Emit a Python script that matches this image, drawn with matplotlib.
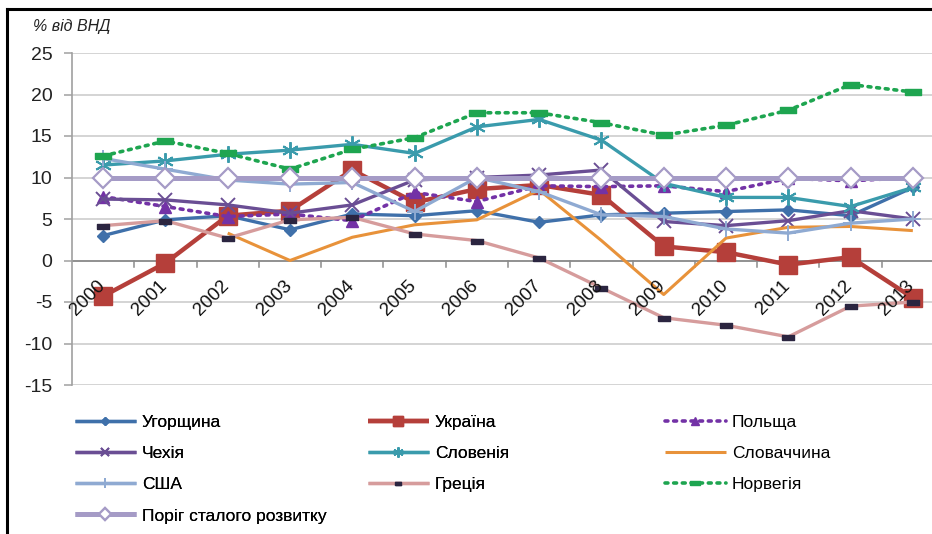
import matplotlib
matplotlib.use("Agg")
import matplotlib.pyplot as plt
from matplotlib.lines import Line2D
from matplotlib.transforms import ScaledTranslation
import numpy as np

plt.rcParams['font.family'] = ['Liberation Sans', 'DejaVu Sans']
plt.rcParams['axes.unicode_minus'] = False

years = ['2000', '2001', '2002', '2003', '2004', '2005', '2006', '2007',
         '2008', '2009', '2010', '2011', '2012', '2013']

hungary  = [3.0, 4.9, 5.4, 3.7, 5.6, 5.4, 6.0, 4.6, 5.5, 5.7, 5.9, 6.1, 5.4, 8.8]
ukraine  = [-4.3, -0.3, 5.4, 6.0, 10.9, 7.0, 8.6, 9.1, 7.9, 1.7, 1.0, -0.5, 0.4, -4.5]
poland   = [7.7, 6.5, 5.3, 5.6, 4.8, 8.2, 7.1, 9.0, 8.9, 9.0, 8.3, 9.9, 9.6, 10.0]
czech    = [7.4, 7.3, 6.7, 5.7, 6.7, 9.7, 10.0, 10.3, 10.9, 4.7, 4.2, 4.8, 6.0, 5.0]
slovenia = [11.5, 12.0, 12.8, 13.3, 14.0, 12.9, 16.1, 17.0, 14.5, 9.3, 7.6, 7.6, 6.5, 8.8]
slovakia = [np.nan, np.nan, 3.3, 0.0, 2.8, 4.3, 4.9, 8.5, 2.4, -4.1, 2.7, 4.0, 4.1, 3.6]
usa      = [12.3, 11.0, 9.7, 9.2, 9.4, 5.9, 10.0, 8.3, 5.5, 5.3, 3.8, 3.3, 4.5, 5.0]
greece   = [4.2, 4.8, 2.7, 4.9, 5.2, 3.2, 2.4, 0.3, -3.3, -6.9, -7.8, -9.2, -5.5, -5.0]
norway   = [12.6, 14.4, 12.9, 11.0, 13.4, 14.8, 17.8, 17.8, 16.6, 15.1, 16.3, 18.1, 21.2, 20.3]
threshold = [10.0] * 14

labels = ['Угорщина', 'Україна', 'Польща', 'Чехія', 'Словенія', 'Словаччина',
          'США', 'Греція', 'Норвегія', 'Поріг сталого розвитку']

W, H = 932, 534
fig = plt.figure(figsize=(W / 100, H / 100), dpi=100)
fig.patch.set_facecolor('white')

ax = fig.add_axes([72 / W, 1 - 385 / H, (944 - 72) / W, (385 - 53) / H])
x = np.arange(len(years))

rect = [(-1, -0.45), (1, -0.45), (1, 0.45), (-1, 0.45), (-1, -0.45)]

series = [
    (hungary,  dict(color='#3F70AA', lw=2.4, marker='D', ms=6.5, mfc='#3F70AA', mec='#3F70AA')),
    (ukraine,  dict(color='#B53F3A', lw=3.2, marker='s', ms=13, mfc='#B53F3A', mec='#B53F3A')),
    (poland,   dict(color='#7332A6', lw=2.6, ls=(0, (0.8, 1.6)), dash_capstyle='round',
                    marker='^', ms=9, mfc='#7332A6', mec='#7332A6')),
    (czech,    dict(color='#6A4E94', lw=2.4, marker='x', ms=10, mew=1.4, mec='#6A4E94')),
    (slovenia, dict(color='#3A9BAC', lw=2.4, marker=(6, 2, 0), ms=12, mew=1.4, mec='#3A9BAC')),
    (slovakia, dict(color='#E8923A', lw=2.2)),
    (usa,      dict(color='#8FAAD2', lw=2.4, marker='+', ms=11, mew=1.4, mec='#8FAAD2')),
    (greece,   dict(color='#D69C9C', lw=2.4, marker=rect, ms=8, mfc='#2B2540', mec='#2B2540')),
    (norway,   dict(color='#1EA550', lw=2.6, ls=(0, (0.8, 1.6)), dash_capstyle='round',
                    marker=rect, ms=11, mfc='#1EA550', mec='#1EA550')),
    (threshold, dict(color='#A59BC6', lw=3.6, marker='D', ms=10, mfc='white', mec='#A59BC6', mew=1.6)),
]

handles = []
for (vals, st), lab in zip(series, labels):
    h, = ax.plot(x, vals, label=lab, solid_capstyle='butt', **st)
    handles.append(h)

ax.set_xlim(-0.5, len(years) - 0.5)
ax.set_ylim(-15, 25)
ax.set_yticks(np.arange(-15, 26, 5))
ax.yaxis.grid(True, color='#C9C9C9', lw=1.1)
ax.set_axisbelow(True)
for s in ['top', 'right', 'bottom']:
    ax.spines[s].set_visible(False)
ax.spines['left'].set_color('#A0A0A0')
ax.spines['left'].set_linewidth(1.2)
ax.tick_params(axis='y', length=6, color='#A0A0A0', width=1.1, pad=8, labelsize=14,
               labelcolor='#222222')
ax.set_xticks([])
# category axis crossing at zero
ax.axhline(0, color='#8C8C8C', lw=1.3, zorder=1.5)
for b in np.arange(0.5, len(years) - 0.5, 1.0):
    ax.add_line(Line2D([b, b], [0, -0.75], color='#8C8C8C', lw=1.1, zorder=1.5))
off = ScaledTranslation(0, -17 / 100, fig.dpi_scale_trans)
for i, yl in enumerate(years):
    ax.text(i + 0.08, 0, yl, rotation=45, ha='right', va='top', fontsize=13.5,
            color='#111111', transform=ax.transData + off, zorder=6)

fig.text(33 / W, 1 - 27 / H, '% від ВНД', fontsize=11.5, style='italic',
         va='center', ha='left', color='#222222')

# legend in three columns
cols = [[0, 3, 6, 9], [1, 4, 7], [2, 5, 8]]
colx = [75, 368, 665]
for ci, idx in enumerate(cols):
    leg = fig.legend([handles[i] for i in idx], [labels[i] for i in idx],
                     loc='upper left', bbox_to_anchor=(colx[ci] / W, 1 - 415 / H),
                     frameon=False, fontsize=12.5, handlelength=3.5, handletextpad=0.35,
                     labelspacing=0.92, borderaxespad=0, borderpad=0, markerscale=0.6)
    if ci < 2:
        fig.add_artist(leg)

# figure frame (top and left)
fig.add_artist(Line2D([7 / W, 7 / W], [0, 1 - 9 / H], color='black', lw=2.2,
                      transform=fig.transFigure))
fig.add_artist(Line2D([7 / W, 1], [1 - 9 / H, 1 - 9 / H], color='black', lw=2.2,
                      transform=fig.transFigure))

fig.savefig('out.png', dpi=100, facecolor='white')
